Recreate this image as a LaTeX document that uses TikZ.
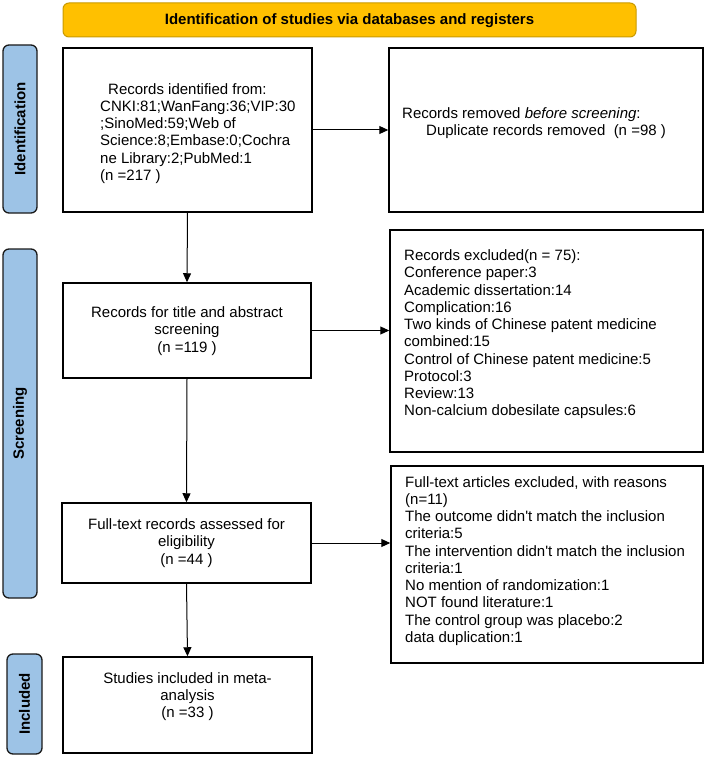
\documentclass[tikz,border=0pt]{standalone}
\usepackage{fontspec}
\newfontfamily\arialfont{Liberation Sans}
\usetikzlibrary{arrows.meta}
\definecolor{bannerfill}{HTML}{FFC000}
\definecolor{bannerdraw}{HTML}{C99A00}
\definecolor{sidefill}{HTML}{9DC3E6}
\definecolor{sidedraw}{HTML}{1A1A1A}
\begin{document}
\begin{tikzpicture}[x=1pt,y=-1pt,
  every node/.append style={font=\arialfont\fontsize{15}{17.25}\selectfont},
  box/.style={draw=black,line width=1.5pt,fill=white,inner sep=0pt},
  txt/.style={inner sep=0pt,align=left,anchor=north west},
  ctxt/.style={inner sep=0pt,align=center},
  banner/.style={draw=bannerdraw,line width=1pt,fill=bannerfill,rounded corners=6pt,inner sep=0pt},
  side/.style={draw=sidedraw,line width=1.3pt,fill=sidefill,rounded corners=6pt,inner sep=0pt},
  sidelabel/.style={inner sep=0pt,rotate=90,font=\arialfont\bfseries\fontsize{15}{17}\selectfont},
  arr/.style={draw=black,line width=1pt,-{Triangle[length=9pt,width=8pt]}}
]
\useasboundingbox (0,0) rectangle (706,757);

% banner
\node[banner,minimum width=573pt,minimum height=34pt] (banner) at (349.5,20) {};
\node[ctxt,font=\arialfont\bfseries\fontsize{15}{17}\selectfont] (bannertxt) at (349.5,20.5) {Identification of studies via databases and registers};

% side bars
\node[side,minimum width=34pt,minimum height=168pt] (side1) at (20,129) {};
\node[sidelabel] (side1txt) at (20,129) {Identification};
\node[side,minimum width=34pt,minimum height=349pt] (side2) at (20,423.5) {};
\node[sidelabel] (side2txt) at (20,423.5) {Screening};
\node[side,minimum width=35pt,minimum height=100pt] (side3) at (24.5,704) {};
\node[sidelabel] (side3txt) at (24.5,704) {Included};

% boxes
\node[box,minimum width=249pt,minimum height=164pt] (b1) at (187.5,130) {};
\node[box,minimum width=314pt,minimum height=164pt] (b2) at (546,130) {};
\node[box,minimum width=248pt,minimum height=95pt] (b3) at (187,330.5) {};
\node[box,minimum width=313pt,minimum height=222pt] (b4) at (546.5,341) {};
\node[box,minimum width=249pt,minimum height=80pt] (b5) at (186.5,543) {};
\node[box,minimum width=312pt,minimum height=197pt] (b6) at (547,564.5) {};
\node[box,minimum width=249pt,minimum height=96pt] (b7) at (187.5,705) {};

% texts
\node[txt] (t1) at (100,83) {\hspace*{8pt}Records identified from:\\
CNKI:81;WanFang:36;VIP:30\\
;SinoMed:59;Web of\\
Science:8;Embase:0;Cochra\\
ne Library:2;PubMed:1\\
(n =217 )};
\node[txt] (t2) at (402,107.5) {Records removed \textit{before screening}:\\
\hspace*{24pt}Duplicate records removed\ \ (n =98 )};
\node[ctxt] (t3) at (187,331) {Records for title and abstract\\screening\\(n =119 )};
\node[txt] (t4) at (404,249.5) {Records excluded(n = 75):\\
Conference paper:3\\
Academic dissertation:14\\
Complication:16\\
Two kinds of Chinese patent medicine\\
combined:15\\
Control of Chinese patent medicine:5\\
Protocol:3\\
Review:13\\
Non-calcium dobesilate capsules:6};
\node[ctxt] (t5) at (186.5,543) {Full-text records assessed for\\eligibility\\(n =44 )};
\node[txt] (t6) at (405,476) {Full-text articles excluded, with reasons\\
(n=11)\\
The outcome didn't match the inclusion\\
criteria:5\\
The intervention didn't match the inclusion\\
criteria:1\\
No mention of randomization:1\\
NOT found literature:1\\
The control group was placebo:2\\
data duplication:1};
\node[ctxt] (t7) at (187.5,696.5) {Studies included in meta-\\analysis\\(n =33 )};

% arrows
\draw[arr] (b1.east) -- (b2.west);
\draw[arr] (b3.east) -- (b4.west |- b3.east);
\draw[arr] (b5.east) -- (b6.west |- b5.east);
\draw[arr] (b1.south) -- (b3.north);
\draw[arr] (b3.south) -- (b5.north);
\draw[arr] (b5.south) -- (b7.north);
\end{tikzpicture}
\end{document}
